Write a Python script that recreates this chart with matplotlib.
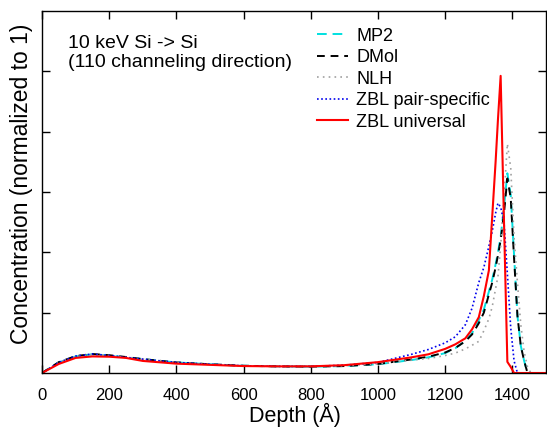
import matplotlib
matplotlib.use('Agg')
import matplotlib.pyplot as plt

plt.rcParams['font.family'] = ['Liberation Sans', 'DejaVu Sans']

# depth grid (Angstrom)
depth = [0, 50, 100, 150, 200, 250, 300, 400, 500, 600, 700, 800, 900, 1000,
         1100, 1150, 1200, 1230, 1260, 1280, 1300, 1315, 1330, 1340, 1350, 1357,
         1365, 1375, 1385, 1395, 1405, 1415, 1425, 1435, 1445, 1455, 1500]

mp2 = [0, 0.035, 0.055, 0.062, 0.058, 0.052, 0.046, 0.035, 0.029, 0.024, 0.022, 0.021, 0.023, 0.029,
       0.043, 0.052, 0.066, 0.082, 0.107, 0.132, 0.175, 0.21, 0.27, 0.31, 0.36, 0.40,
       0.45, 0.55, 0.662, 0.59, 0.39, 0.19, 0.09, 0.04, 0, 0, 0]
dmol = [0, 0.036, 0.056, 0.063, 0.059, 0.053, 0.046, 0.035, 0.029, 0.024, 0.022, 0.021, 0.023, 0.030,
        0.045, 0.054, 0.068, 0.083, 0.105, 0.128, 0.165, 0.20, 0.26, 0.30, 0.35, 0.39,
        0.44, 0.53, 0.645, 0.58, 0.38, 0.19, 0.09, 0.04, 0, 0, 0]
nlh = [0, 0.035, 0.055, 0.062, 0.058, 0.052, 0.046, 0.035, 0.029, 0.024, 0.023, 0.022, 0.024, 0.030,
       0.043, 0.048, 0.058, 0.066, 0.080, 0.092, 0.105, 0.14, 0.18, 0.22, 0.28, 0.32,
       0.42, 0.58, 0.76, 0.68, 0.45, 0.30, 0.16, 0.07, 0.02, 0, 0]
zbl_pair = [0, 0.035, 0.056, 0.063, 0.058, 0.052, 0.046, 0.035, 0.029, 0.024, 0.022, 0.022, 0.026, 0.035,
            0.062, 0.078, 0.10, 0.12, 0.16, 0.215, 0.30, 0.35, 0.42, 0.47, 0.53, 0.563,
            0.55, 0.50, 0.33, 0.15, 0.04, 0, 0, 0, 0, 0, 0]
zbl_univ = [0, 0.030, 0.050, 0.055, 0.054, 0.050, 0.040, 0.031, 0.027, 0.023, 0.022, 0.022, 0.026, 0.036,
            0.052, 0.062, 0.080, 0.095, 0.115, 0.145, 0.185, 0.255, 0.34, 0.52, 0.70, 0.84,
            0.985, 0.50, 0.037, 0.02, 0, 0, 0, 0, 0, 0, 0]

W, H = 547, 430
fig = plt.figure(figsize=(W / 100, H / 100), dpi=100)
ax = fig.add_axes([42 / W, 1 - 373 / H, 504 / W, 362 / H])

ax.plot(depth, mp2, color='#00e0e0', ls=(0, (5, 3)), lw=1.4, label='MP2')
ax.plot(depth, dmol, color='black', ls=(0, (4, 3)), lw=1.4, label='DMol')
ax.plot(depth, nlh, color='#a0a0a0', ls=(0, (1, 2.5)), lw=1.2, label='NLH')
ax.plot(depth, zbl_pair, color='#0000ee', ls=(0, (1, 1.5)), lw=1.2, label='ZBL pair-specific')
ax.plot(depth, zbl_univ, color='#ff0000', ls='-', lw=1.5, label='ZBL universal')

ax.set_xlim(0, 1500)
ax.set_ylim(0, 1.2)
ax.set_xticks(range(0, 1600, 200))
ax.set_yticks([0.2, 0.4, 0.6, 0.8, 1.0])
ax.set_yticklabels([])
ax.tick_params(direction='in', length=6, width=1, top=True, right=True, labelsize=12)
ax.tick_params(axis='x', pad=10.8)
for s in ax.spines.values():
    s.set_linewidth(1.0)

# axis labels placed at pixel positions
fig.text(295 / W, 1 - 415 / H, 'Depth (Å)', fontsize=15.5, ha='center', va='center')
fig.text(22 / W, 1 - 183.5 / H, 'Concentration (normalized to 1)', fontsize=16.5,
         rotation=90, ha='center', va='center')

fig.text(68 / W, 1 - 48.3 / H, '10 keV Si -> Si', fontsize=14, ha='left', va='baseline')
fig.text(68 / W, 1 - 66.7 / H, '(110 channeling direction)', fontsize=14, ha='left', va='baseline')

ax.legend(loc='upper left', bbox_to_anchor=(0.532, 0.9725), frameon=False, fontsize=13,
          handlelength=1.75, handletextpad=0.44, labelspacing=0.25, borderaxespad=0,
          borderpad=0.37)

fig.savefig('out.png', dpi=100)
